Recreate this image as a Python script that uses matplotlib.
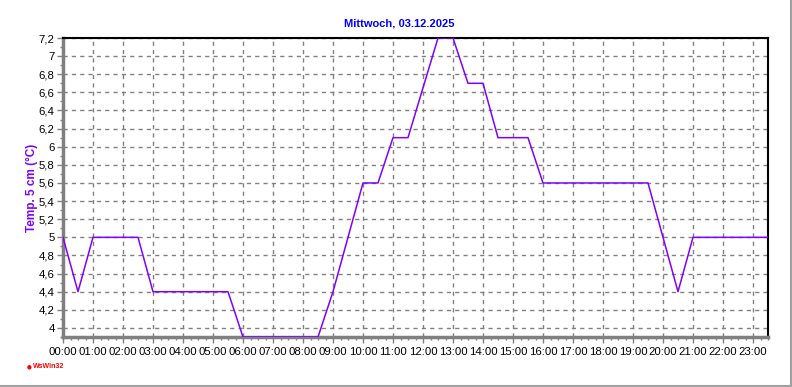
import numpy as np
import matplotlib
matplotlib.use("Agg")
import matplotlib.pyplot as plt
from matplotlib.ticker import MultipleLocator
from matplotlib.lines import Line2D

# half-hour readings, hours since midnight
hours = [0, 0.5, 1, 1.5, 2, 2.5, 3, 3.5, 4, 4.5, 5, 5.5,
         6, 6.5, 7, 7.5, 8, 8.5, 9, 9.5, 10, 10.5, 11, 11.5,
         12, 12.5, 13, 13.5, 14, 14.5, 15, 15.5, 16, 16.5, 17, 17.5,
         18, 18.5, 19, 19.5, 20, 20.5, 21, 21.5, 22, 22.5, 23, 23.5]
temps = [5.0, 4.4, 5.0, 5.0, 5.0, 5.0, 4.4, 4.4, 4.4, 4.4, 4.4, 4.4,
         3.9, 3.9, 3.9, 3.9, 3.9, 3.9, 4.4, 5.0, 5.6, 5.6, 6.1, 6.1,
         6.65, 7.2, 7.2, 6.7, 6.7, 6.1, 6.1, 6.1, 5.6, 5.6, 5.6, 5.6,
         5.6, 5.6, 5.6, 5.6, 5.0, 4.4, 5.0, 5.0, 5.0, 5.0, 5.0, 5.0]

ytick_vals = [4, 4.2, 4.4, 4.6, 4.8, 5, 5.2, 5.4, 5.6, 5.8, 6, 6.2, 6.4, 6.6, 6.8, 7, 7.2]
xtick_labels = ["%02d:00" % h for h in range(24)]

title = "Mittwoch, 03.12.2025"
ylabel = "Temp. 5 cm (°C)"

plt.rcParams["font.family"] = ["Liberation Sans", "DejaVu Sans"]

W, H = 792, 387
fig = plt.figure(figsize=(W / 100, H / 100), dpi=100)
ax = fig.add_axes([63 / W, (H - 337) / H, 705 / W, (337 - 38) / H])

ax.plot(hours, temps, color="#8000ff", lw=1.1, zorder=3)

ax.set_xlim(0, 23.5)
ax.set_ylim(3.9, 7.2)
ax.set_xticks(range(24))
ax.set_xticklabels(xtick_labels)
ax.xaxis.set_minor_locator(MultipleLocator(0.25))
ax.set_yticks(ytick_vals)
ax.set_yticklabels([("%g" % v).replace(".", ",") for v in ytick_vals])
ax.yaxis.set_minor_locator(MultipleLocator(0.1))

ax.grid(True, which="major", color="#808080", ls=(0, (3, 3)), lw=1)
ax.tick_params(which="major", length=4, width=1, color="#808080", labelsize=8.2, pad=2)
ax.tick_params(which="minor", length=2, width=1, color="#808080")
ax.tick_params(axis="x", pad=3)

for s in ["left", "bottom"]:
    ax.spines[s].set_color("#808080")
    ax.spines[s].set_linewidth(2.5)
for s in ["top", "right"]:
    ax.spines[s].set_color("black")
    ax.spines[s].set_linewidth(1.5)

ax.set_ylabel(ylabel, color="#8000ff", fontweight="bold", fontsize=8.5)
ax.yaxis.set_label_coords((38 - 63) / 705, 0.5)
fig.text(399 / W, 1 - 24 / H, title, color="#0000ff", fontweight="bold",
         fontsize=8, ha="center", va="center")

fig.text(29 / W, 1 - 367 / H, "\u25cf", color="red", fontsize=4, ha="center", va="center",
         family=["DejaVu Sans"])
fig.text(32.5 / W, 1 - 367 / H, "WsWin32", color="red", fontweight="bold",
         fontsize=5, ha="left", va="center")

# grey frame at right and bottom edge
fig.add_artist(Line2D([790.5 / W, 790.5 / W], [1 / H, 1], color="#a0a0a0", lw=1.5))
fig.add_artist(Line2D([0, 791 / W], [1.2 / H, 1.2 / H], color="#a0a0a0", lw=1.5))

fig.savefig("out.png", dpi=100)
